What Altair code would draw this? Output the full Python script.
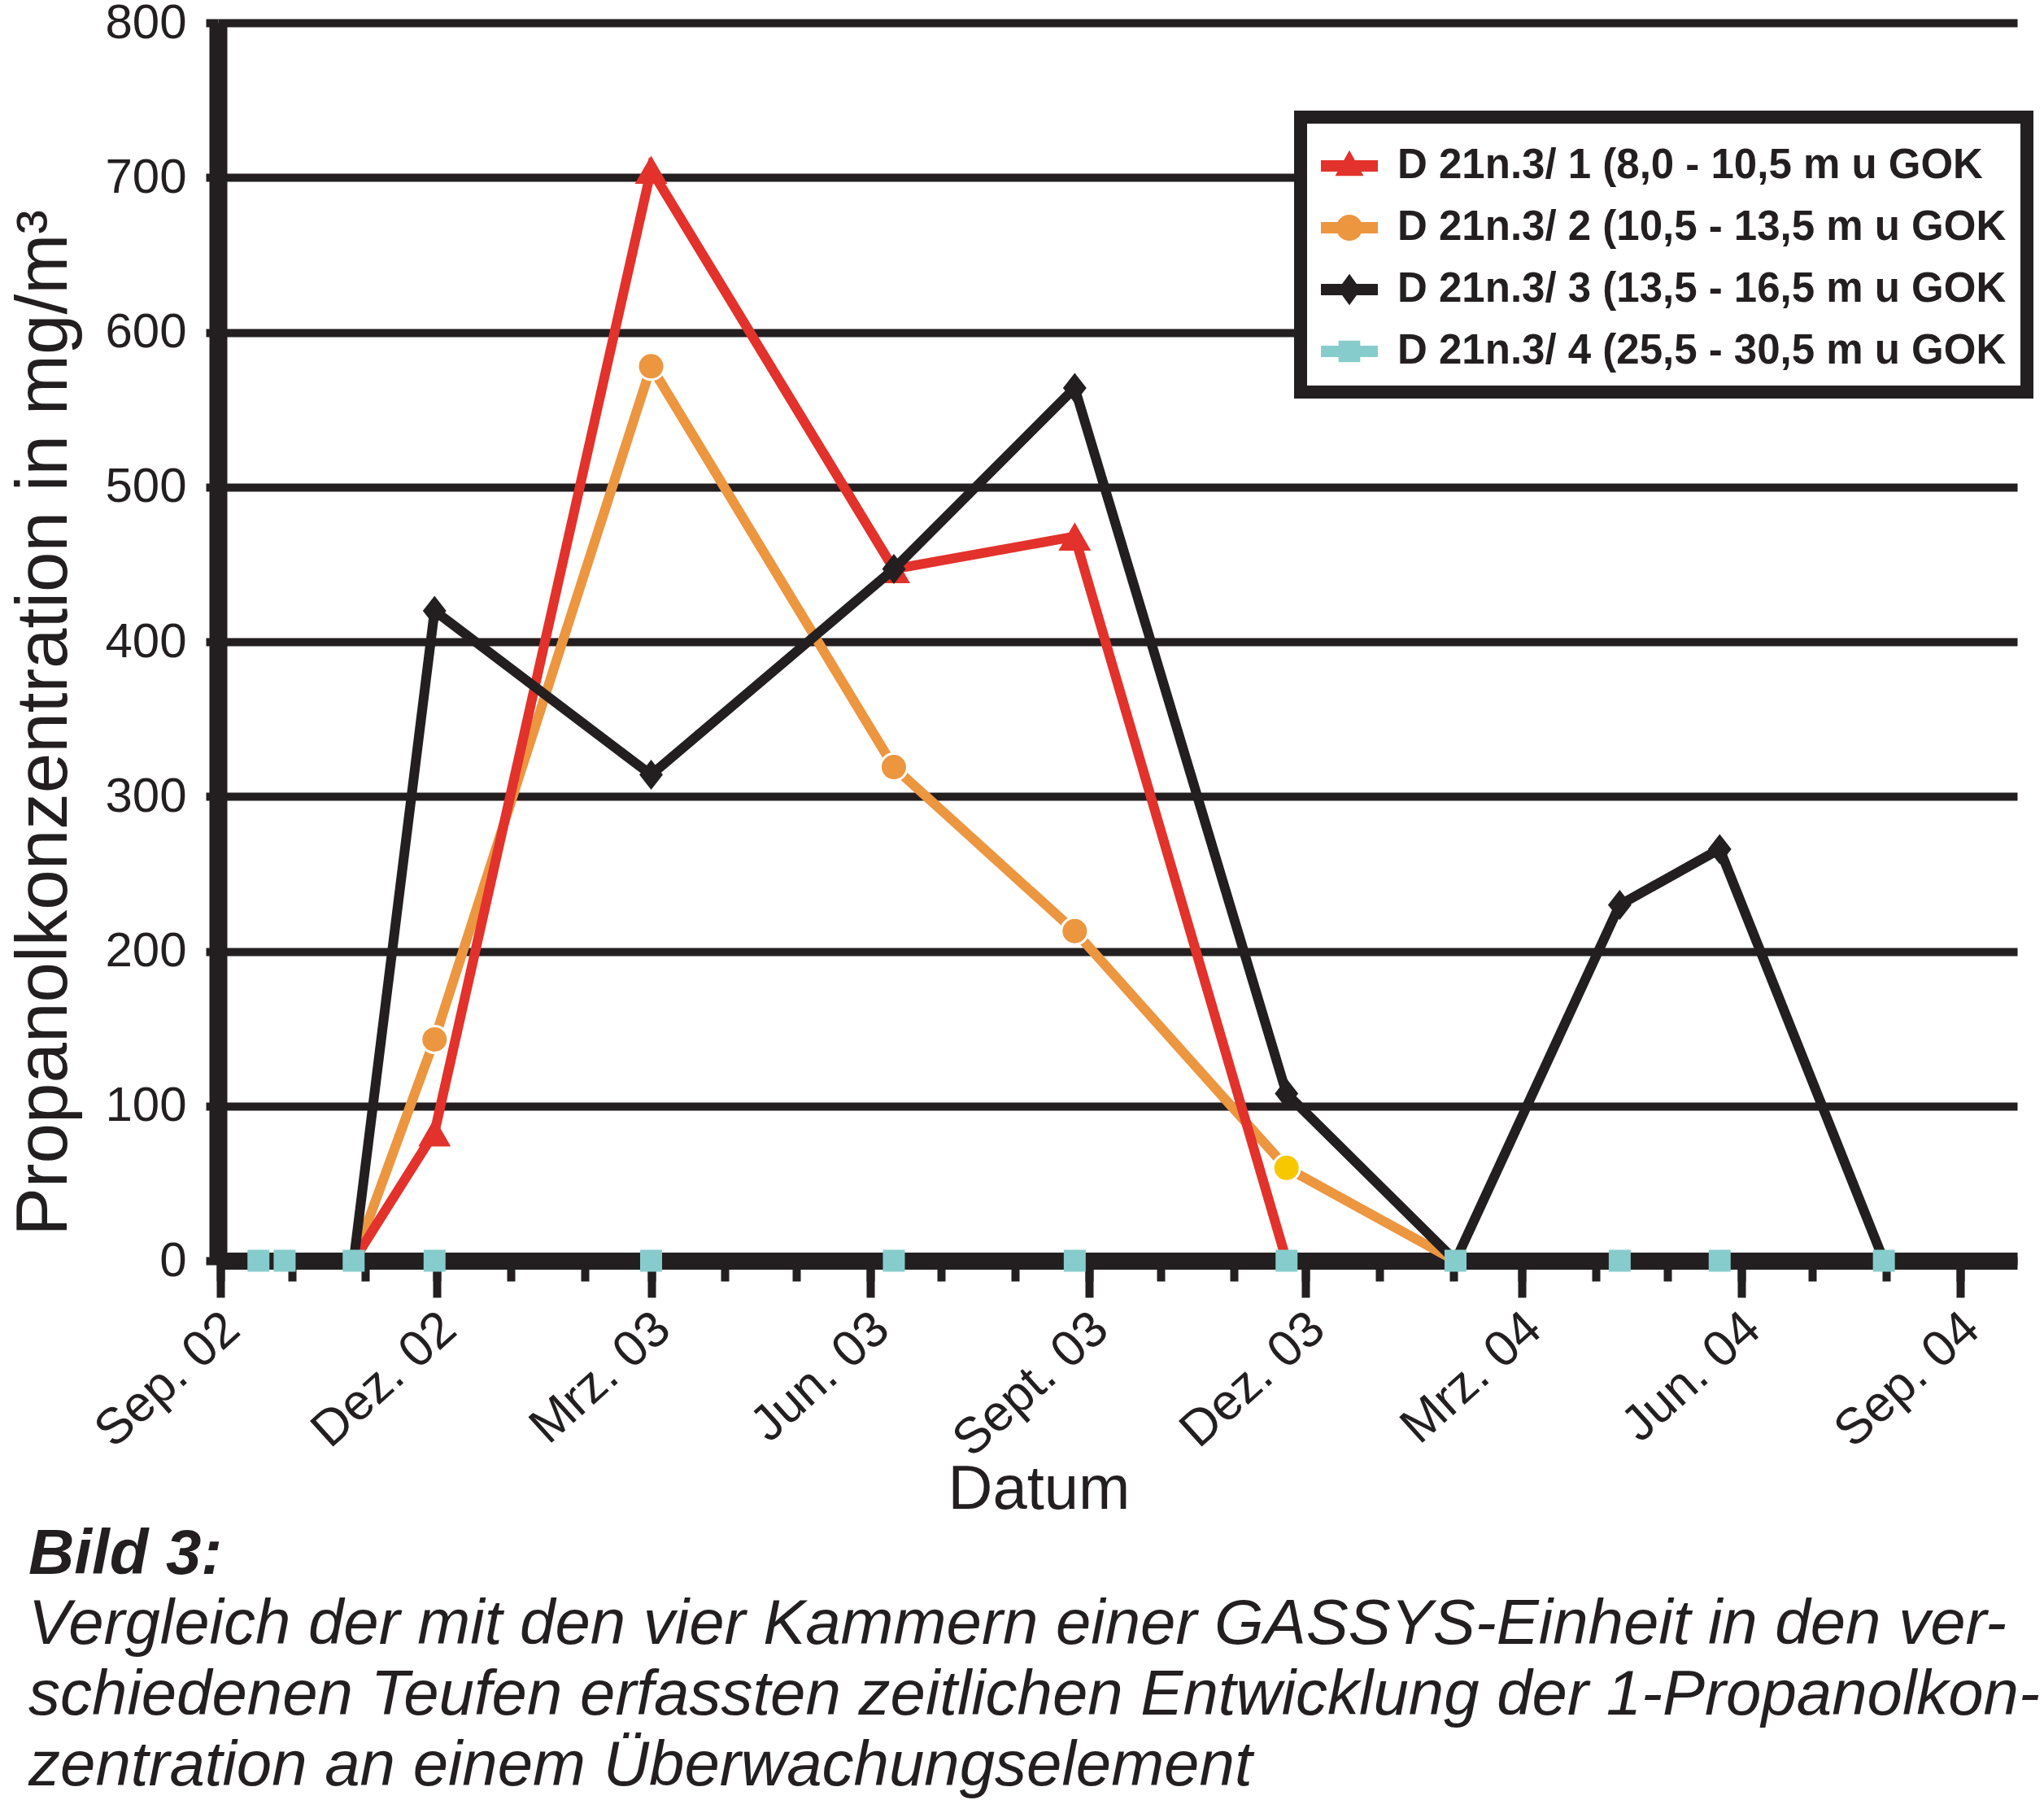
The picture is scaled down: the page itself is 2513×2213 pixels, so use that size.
import altair as alt
import pandas as pd

# ---------------- data ----------------
series_names = [
    "D 21n.3/ 1 (8,0 - 10,5 m u GOK",
    "D 21n.3/ 2 (10,5 - 13,5 m u GOK",
    "D 21n.3/ 3 (13,5 - 16,5 m u GOK",
    "D 21n.3/ 4 (25,5 - 30,5 m u GOK",
]
series_colors = ["#e2322b", "#ec9640", "#231f20", "#87cccc"]
highlight_color = "#f7c800"

s1_dates = ["2002-10-27", "2002-11-30", "2003-03-01", "2003-06-11", "2003-08-26", "2003-11-23"]
s1_values = [0, 83, 705, 447, 468, 0]

s2_dates = ["2002-10-27", "2002-11-30", "2003-03-01", "2003-06-11", "2003-08-26", "2003-11-23", "2004-02-02"]
s2_values = [0, 143, 578, 319, 213, 60, 0]
s2_highlight = [False, False, False, False, False, True, False]

s3_dates = ["2002-10-27", "2002-11-30", "2003-03-01", "2003-06-11", "2003-08-26", "2003-11-23",
            "2004-02-02", "2004-04-11", "2004-05-23", "2004-07-31"]
s3_values = [0, 420, 314, 447, 564, 108, 0, 230, 266, 0]

s4_dates = ["2002-09-17", "2002-09-28", "2002-10-27", "2002-11-30", "2003-03-01", "2003-06-11",
            "2003-08-26", "2003-11-23", "2004-02-02", "2004-04-11", "2004-05-23", "2004-07-31"]
s4_values = [0, 0, 0, 0, 0, 0, 0, 0, 0, 0, 0, 0]

x_tick_dates = ["2002-09-01", "2002-12-01", "2003-03-01", "2003-06-01", "2003-09-01",
                "2003-12-01", "2004-03-01", "2004-06-01", "2004-09-01"]
x_tick_labels = ["Sep. 02", "Dez. 02", "Mrz. 03", "Jun. 03", "Sept. 03",
                 "Dez. 03", "Mrz. 04", "Jun. 04", "Sep. 04"]
x_minor_dates = [f"{y}-{m:02d}-01" for y, m in
                 [(2002, 9), (2002, 10), (2002, 11), (2002, 12)]
                 + [(2003, m) for m in range(1, 13)]
                 + [(2004, m) for m in range(1, 10)]]
y_ticks = [0, 100, 200, 300, 400, 500, 600, 700, 800]

caption_title = "Bild 3:"
caption_lines = [
    "Vergleich der mit den vier Kammern einer GASSYS-Einheit in den ver-",
    "schiedenen Teufen erfassten zeitlichen Entwicklung der 1-Propanolkon-",
    "zentration an einem Überwachungselement",
]

# ---------------- styling ----------------
FONT = "Liberation Sans"
INK = "#231f20"
TOP = 28
PLOT_H = 1550 - TOP


def dt(s):
    y, m, d = (int(p) for p in s.split("-"))
    return alt.DateTime(year=y, month=m, date=d, utc=True)


def frame(dates, values, name, **extra):
    df = pd.DataFrame({"date": dates, "value": values, "series": name})
    for k, v in extra.items():
        df[k] = v
    return df


df1 = frame(s1_dates, s1_values, series_names[0])
df2 = frame(s2_dates, s2_values, series_names[1], hl=s2_highlight)
df3 = frame(s3_dates, s3_values, series_names[2])
df4 = frame(s4_dates, s4_values, series_names[3])
df_all = pd.concat([df1, df2, df3, df4], ignore_index=True)

x_scale = alt.Scale(type="utc", domain=[dt("2002-08-31"), dt("2004-09-25")])
y_scale = alt.Scale(domain=[0, 800], nice=False)

tick_ts = [int(pd.Timestamp(d, tz="UTC").value // 10**6) for d in x_tick_dates]
label_expr = " : ".join(
    f"time(datum.value) == {t} ? '{lab}'" for t, lab in zip(tick_ts, x_tick_labels)
) + " : ''"

x_major_axis = alt.Axis(
    orient="bottom",
    values=[dt(d) for d in x_tick_dates],
    labelExpr=label_expr,
    labelAngle=318, labelAlign="right", labelBaseline="top",
    labelFont=FONT, labelFontSize=62, labelColor=INK, labelLimit=1000,
    labelPadding=7, labelOffset=-6,
    labelOverlap=False, labelFlush=False, labelBound=False,
    tickSize=45, tickWidth=10, tickColor=INK,
    domainWidth=21, domainColor=INK, grid=False,
    title="Datum", titleFont=FONT, titleFontSize=76, titleFontWeight="normal",
    titleColor=INK, titleX=1009, titleY=304, titleAlign="center",
    titleBaseline="alphabetic",
)
x_minor_axis = alt.Axis(
    orient="bottom",
    values=[dt(d) for d in x_minor_dates],
    labels=False, domain=False, grid=False,
    tickSize=25, tickWidth=10, tickColor=INK, title=None,
)
y_axis = alt.Axis(
    orient="left",
    values=y_ticks, grid=True, gridColor=INK, gridWidth=10, gridOpacity=1,
    domainWidth=22, domainColor=INK, tickSize=15, tickWidth=10, tickColor=INK,
    labelFont=FONT, labelFontSize=60, labelColor=INK, labelPadding=24,
    title="Propanolkonzentration in mg/m³", titleFont=FONT, titleFontSize=89,
    titleFontWeight="normal", titleColor=INK, titleAngle=270, titleAlign="left",
    titleBaseline="alphabetic", titleX=-187, titleY=1519 - TOP,
)


def enc(x_axis=None, y_ax=None):
    return dict(
        x=alt.X("date:T", scale=x_scale, axis=x_axis),
        y=alt.Y("value:Q", scale=y_scale, axis=y_ax),
    )


# markers sitting on the zero line are hidden by the thick axis bar in the reference
visible = "datum.value > 0"

orange_line = alt.Chart(df2).mark_line(color=series_colors[1], strokeWidth=12).encode(
    **enc(x_major_axis, y_axis))
orange_pts = alt.Chart(df2).transform_filter(visible).mark_point(
    filled=True, opacity=1, shape="circle", size=1089, stroke="white", strokeWidth=3
).encode(
    **enc(),
    fill=alt.condition("datum.hl", alt.value(highlight_color), alt.value(series_colors[1])),
)
red_line = alt.Chart(df1).mark_line(color=series_colors[0], strokeWidth=12).encode(**enc())
red_pts = alt.Chart(df1).transform_filter(visible).mark_point(
    filled=True, opacity=1, shape="triangle-up", size=1600, color=series_colors[0], strokeWidth=0
).encode(**enc())
black_line = alt.Chart(df3).mark_line(color=series_colors[2], strokeWidth=12).encode(**enc())
black_pts = alt.Chart(df3).transform_filter(visible).mark_point(
    filled=True, opacity=1, shape="M0,-1L0.78,0L0,1L-0.78,0Z", size=1369,
    color=series_colors[2], strokeWidth=0
).encode(**enc())
cyan_pts = alt.Chart(df4).mark_point(
    filled=True, opacity=1, shape="square", size=729, color=series_colors[3], strokeWidth=0
).encode(**enc(x_minor_axis))

bar = "M-1,-0.2L1,-0.2L1,0.2L-1,0.2Z "
legend_paths = [
    bar + "M0,-0.55L0.5,0.35L-0.5,0.35Z",
    bar + "M0.46,0A0.46,0.46 0 1,1 -0.46,0A0.46,0.46 0 1,1 0.46,0Z",
    bar + "M0,-0.55L0.4,0L0,0.55L-0.4,0Z",
    bar + "M-0.38,-0.38L0.38,-0.38L0.38,0.38L-0.38,0.38Z",
]
leg = alt.Legend(
    title=None, orient="none", legendX=1331, legendY=144 - TOP,
    strokeColor=INK, fillColor="white", padding=25,
    labelFont=FONT, labelFontSize=51, labelFontWeight="bold", labelColor=INK,
    labelLimit=2000, labelOffset=24, symbolSize=4900, symbolStrokeWidth=0,
    rowPadding=16,
)
legend_layer = alt.Chart(df_all).transform_filter("false").mark_point(
    filled=True, opacity=1
).encode(
    **enc(),
    color=alt.Color("series:N", scale=alt.Scale(domain=series_names, range=series_colors), legend=leg),
    shape=alt.Shape("series:N", scale=alt.Scale(domain=series_names, range=legend_paths), legend=leg),
)

chart = alt.layer(
    orange_line, orange_pts, red_line, red_pts, black_line, black_pts, cyan_pts, legend_layer
).resolve_axis(x="independent", y="independent").resolve_scale(
    color="independent", shape="independent"
).properties(
    width=2212, height=PLOT_H,
    autosize=alt.AutoSizeParams(type="none"),
    padding={"left": 268, "top": TOP, "right": 33, "bottom": 663},
    background="white",
    title=alt.TitleParams(
        text=caption_title, subtitle=caption_lines, orient="bottom", anchor="start",
        frame="group", dx=-233, offset=4,
        font=FONT, fontSize=78, fontStyle="italic", fontWeight="bold", color=INK,
        subtitleFont=FONT, subtitleFontSize=78, subtitleFontStyle="italic",
        subtitleFontWeight="normal", subtitleColor=INK, subtitleLineHeight=87,
        subtitlePadding=8,
    ),
).configure_view(stroke=None).configure_legend(strokeWidth=16)

chart.save("out.html", embed_options={"renderer": "svg", "actions": False})
